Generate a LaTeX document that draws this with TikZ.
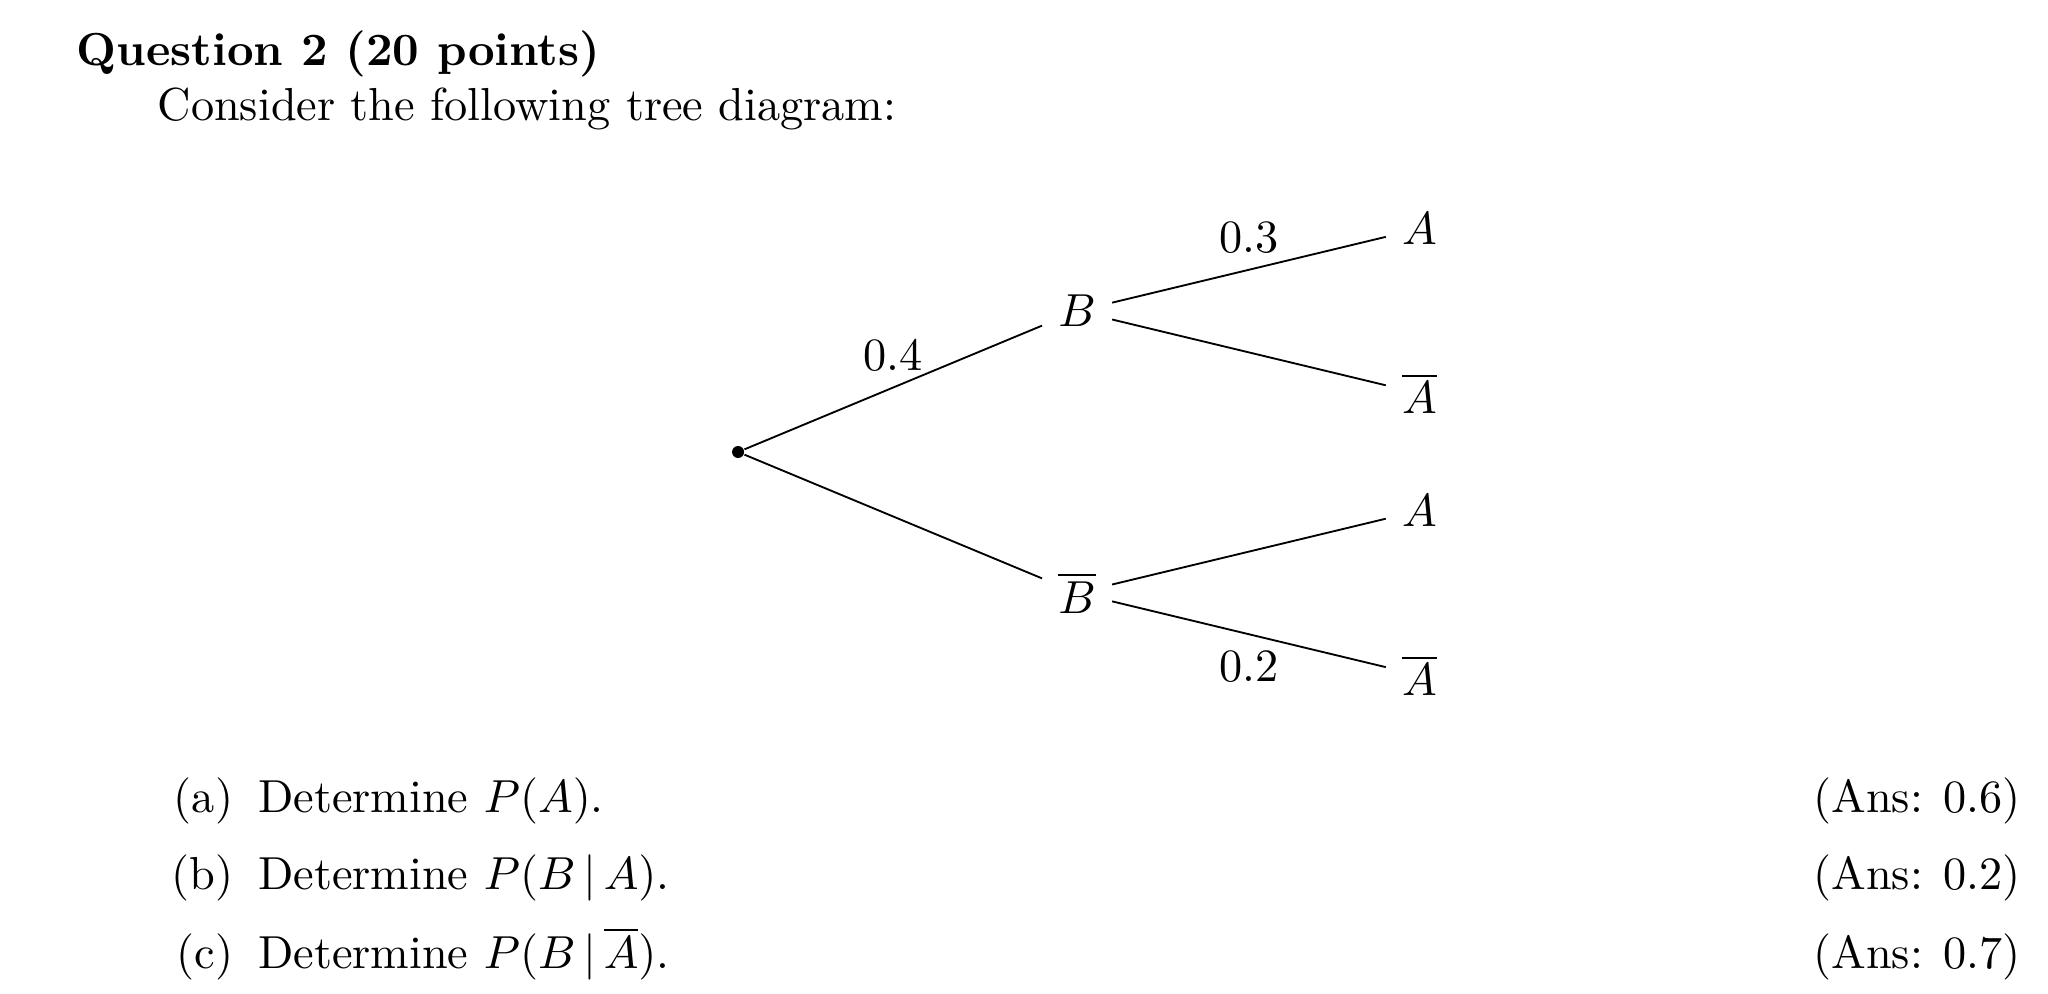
\documentclass[tikz,border=0pt]{standalone}
\usepackage{amsmath}
\usepackage{tikz}
\usetikzlibrary {positioning}
\tikzset{
        ev/.style={inner sep=0.3333em},
        dot/.style={circle, fill, inner sep=0pt, minimum size=2.6pt},
        branch/.style={line width=0.4pt},
        txt/.style={inner sep=0pt, anchor=base west},
        ans/.style={inner sep=0pt, anchor=base east},
 }

\begin{document}
\begin{tikzpicture}[on grid]
    \useasboundingbox (0,0) rectangle (15.55,-7.547);

    \node[txt] (title) at (0.577,-0.494) {\textbf{Question 2 (20 points)}};
    \node[txt] (intro) at (1.19,-0.913) {Consider the following tree diagram:};

    % tree
    \node[dot] (root) at (5.604,-3.432) {};
    \node[ev, above right=1.07cm and 2.574cm of root] (B) {$B$};
    \node[ev, below right=1.07cm and 2.574cm of root] (Bc) {$\overline{B}$};
    \node[ev, above right=0.625cm and 2.6cm of B] (BA) {$A$};
    \node[ev, below right=0.625cm and 2.6cm of B] (BAc) {$\overline{A}$};
    \node[ev, above right=0.625cm and 2.6cm of Bc] (BcA) {$A$};
    \node[ev, below right=0.625cm and 2.6cm of Bc] (BcAc) {$\overline{A}$};

    \draw[branch] (root) -- node[above] {0.4} (B);
    \draw[branch] (root) -- (Bc);
    \draw[branch] (B) -- node[above] {0.3} (BA);
    \draw[branch] (B) -- (BAc);
    \draw[branch] (Bc) -- (BcA);
    \draw[branch] (Bc) -- node[below] {0.2} (BcAc);

    % questions
    \node[txt] (qa) at (1.953,-6.166) {Determine $P(A)$.};
    \node[txt] (qb) at (1.953,-6.751) {Determine $P(B\,|\,A)$.};
    \node[txt] (qc) at (1.953,-7.35) {Determine $P(B\,|\,\overline{A})$.};
    \node[ans] (la) at ([xshift=-5pt]qa.base west) {(a)};
    \node[ans] (lb) at ([xshift=-5pt]qb.base west) {(b)};
    \node[ans] (lc) at ([xshift=-5pt]qc.base west) {(c)};
    \node[ans] (ansa) at (15.35,-6.166) {(Ans: 0.6)};
    \node[ans] (ansb) at (15.35,-6.751) {(Ans: 0.2)};
    \node[ans] (ansc) at (15.35,-7.35) {(Ans: 0.7)};

\end{tikzpicture}
\end{document}
